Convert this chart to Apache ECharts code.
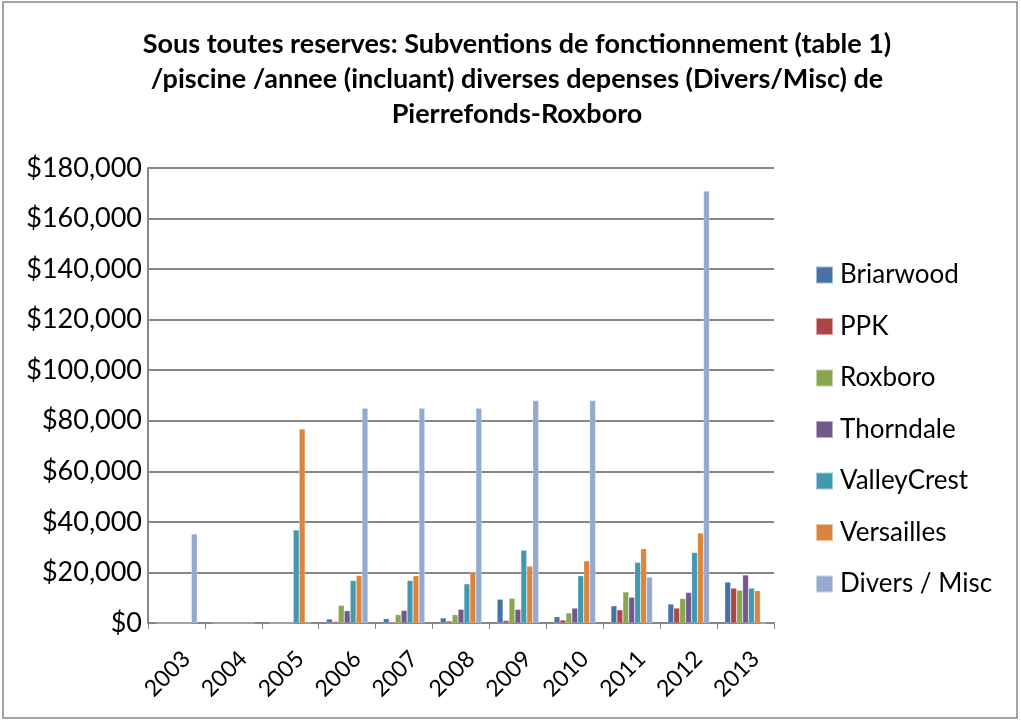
<!DOCTYPE html>
<html>
<head>
<meta charset="utf-8">
<script src="https://cdn.jsdelivr.net/npm/echarts@6/dist/echarts.min.js"></script>
<style>
html,body{margin:0;padding:0;background:#fff;}
#chart{width:1021px;height:721px;}
</style>
</head>
<body>
<div id="chart"></div>
<script>
// annees
var years = ['2003','2004','2005','2006','2007','2008','2009','2010','2011','2012','2013'];
var yTicks = [0,20000,40000,60000,80000,100000,120000,140000,160000,180000];

// valeurs ($)
var briarwood   = [0,0,0,1600,1700,2000,9400,2500,6800,7500,16200];
var ppk         = [0,0,0,600,500,800,1000,1200,5200,5900,13800];
var roxboro     = [0,0,0,7000,3300,3300,9800,4000,12300,9700,13000];
var thorndale   = [0,0,0,4900,5000,5400,5400,5900,10200,12100,19000];
var valleyCrest = [0,0,36800,16800,16800,15500,28800,18700,24000,27900,13800];
var versailles  = [0,0,76700,18800,18700,20000,22500,24600,29400,35600,12800];
var divers      = [35200,0,0,85000,85000,85000,88000,88000,18200,170900,0];

var seriesNames = ['Briarwood','PPK','Roxboro','Thorndale','ValleyCrest','Versailles','Divers / Misc'];
var seriesData = [briarwood,ppk,roxboro,thorndale,valleyCrest,versailles,divers];
var colors = ['#4572a7','#aa4643','#89a54e','#71588f','#4198af','#db843d','#93a9cf'];

function fmtDollar(v){
	return '$' + String(v).replace(/\B(?=(\d{3})+(?!\d))/g, ',');
}

var myCharts = echarts.init(document.getElementById('chart'));

var seriesArr = new Array();
for(var i=0;i<seriesNames.length;i++){
	seriesArr.push({
		name: seriesNames[i],
		type: 'bar',
		data: seriesData[i],
		barGap: '0%',
		barCategoryGap: '27%',
		itemStyle: { color: colors[i], borderColor: 'rgba(255,255,255,0.5)', borderWidth: 0.5 }
	});
}

var option = {
	animation: false,
	color: colors,
	textStyle: { fontFamily: 'Lato' },
	title: {
		text: 'Sous toutes reserves: Subventions de fonctionnement (table 1)\n/piscine /annee (incluant) diverses depenses (Divers/Misc) de\nPierrefonds-Roxboro',
		left: 517,
		textAlign: 'center',
		top: 27,
		padding: 0,
		textStyle: { fontSize: 27, fontWeight: 'bold', color: '#000', lineHeight: 35, fontFamily: 'Lato' }
	},
	legend: {
		orient: 'vertical',
		left: 815,
		top: 262,
		padding: 0,
		itemWidth: 17,
		itemHeight: 17,
		itemGap: 25.5,
		icon: 'rect',
		data: seriesNames,
		textStyle: { fontSize: 26, lineHeight: 26, color: '#000', padding: [0,0,0,2] }
	},
	grid: { left: 148, right: 247, top: 168, bottom: 98 },
	xAxis: {
		type: 'category',
		data: years,
		axisLine: { lineStyle: { color: '#868686', width: 2 } },
		axisTick: { show: true, length: 6, lineStyle: { color: '#868686' } },
		axisLabel: { rotate: 45, fontSize: 23, color: '#000', margin: 42, padding: [0,-14,0,0] }
	},
	yAxis: {
		type: 'value',
		min: yTicks[0],
		max: yTicks[yTicks.length-1],
		interval: 20000,
		axisLine: { show: true, lineStyle: { color: '#868686', width: 2 } },
		axisTick: { show: false },
		splitLine: { lineStyle: { color: '#868686', width: 2 } },
		axisLabel: { fontSize: 27, color: '#000', margin: 6, formatter: fmtDollar }
	},
	graphic: [{
		type: 'rect',
		shape: { x: 3, y: 2, width: 1014, height: 716 },
		style: { fill: 'none', stroke: '#868686', lineWidth: 1.5 },
		silent: true
	}],
	series: seriesArr
};
myCharts.setOption(option);
</script>
</body>
</html>
